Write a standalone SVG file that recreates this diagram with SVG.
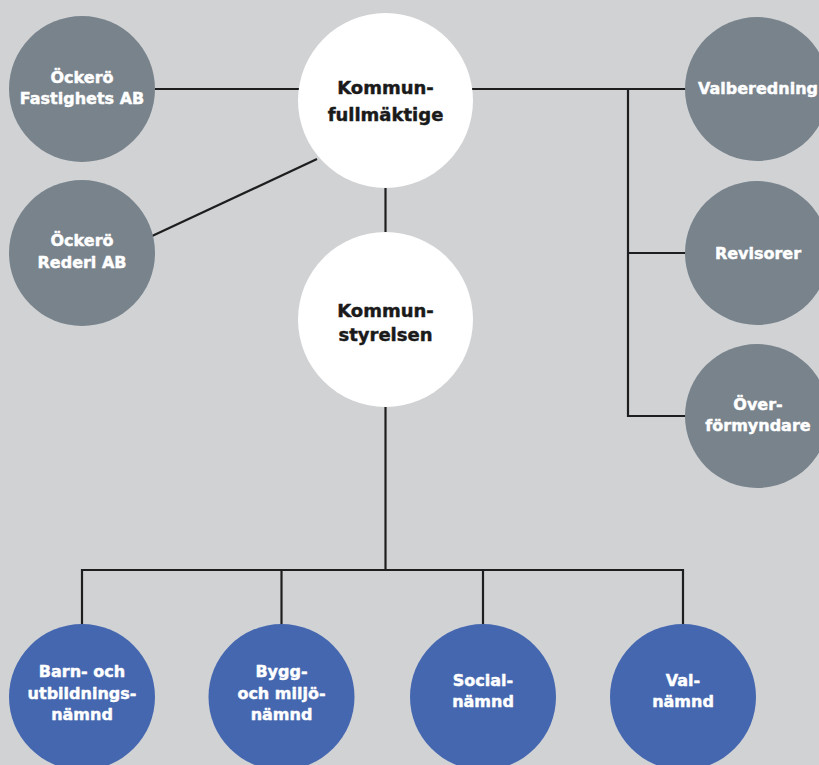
<svg xmlns="http://www.w3.org/2000/svg" width="819" height="765" viewBox="0 0 819 765">
<style>
.bg{fill:#d1d2d4}
.gray{fill:#78838c}
.white{fill:#ffffff}
.blue{fill:#4567b0}
.ln{stroke:#1e1e1e;stroke-width:2.2;fill:none}
.t{font-family:"DejaVu Sans","Liberation Sans",sans-serif;font-weight:bold;text-anchor:middle;stroke-width:0.45;stroke-linejoin:round}
.tw{fill:#ffffff;stroke:#ffffff;font-size:16px}
.tk{fill:#1a1a1a;stroke:#1a1a1a;font-size:18px}
</style>
<rect class="bg" x="0" y="0" width="819" height="765"/>
<g id="connectors">
<line class="ln" x1="155" y1="89" x2="299" y2="89"/>
<line class="ln" x1="151" y1="236.5" x2="317" y2="159"/>
<line class="ln" x1="385.5" y1="187" x2="385.5" y2="233"/>
<line class="ln" x1="472" y1="89" x2="687" y2="89"/>
<polyline class="ln" points="628,89 628,416 687,416"/>
<line class="ln" x1="628" y1="253" x2="687" y2="253"/>
<line class="ln" x1="385.5" y1="406" x2="385.5" y2="570"/>
<polyline class="ln" points="82,625 82,570 683,570 683,625"/>
<line class="ln" x1="281.5" y1="570" x2="281.5" y2="625"/>
<line class="ln" x1="483" y1="570" x2="483" y2="625"/>
</g>
<g id="fastighets">
<circle class="gray" cx="82" cy="89" r="73"/>
<text class="t tw" x="82" y="82.5">Öckerö</text>
<text class="t tw" x="82" y="104">Fastighets AB</text>
</g>
<g id="rederi">
<circle class="gray" cx="82" cy="253" r="73"/>
<text class="t tw" x="82" y="246">Öckerö</text>
<text class="t tw" x="82" y="268">Rederi AB</text>
</g>
<g id="kommunfullmaktige">
<circle class="white" cx="385.5" cy="100.5" r="87.5"/>
<text class="t tk" x="385.5" y="93.5">Kommun-</text>
<text class="t tk" x="385.5" y="121">fullmäktige</text>
</g>
<g id="kommunstyrelsen">
<circle class="white" cx="385.5" cy="319.5" r="87.5"/>
<text class="t tk" x="385.5" y="316.5">Kommun-</text>
<text class="t tk" x="385.5" y="341">styrelsen</text>
</g>
<g id="valberedning">
<circle class="gray" cx="757" cy="89" r="72"/>
<text class="t tw" x="758" y="94">Valberedning</text>
</g>
<g id="revisorer">
<circle class="gray" cx="757" cy="253" r="72"/>
<text class="t tw" x="758" y="258.5">Revisorer</text>
</g>
<g id="overformyndare">
<circle class="gray" cx="757" cy="416" r="72"/>
<text class="t tw" x="758" y="410">Över-</text>
<text class="t tw" x="758" y="431">förmyndare</text>
</g>
<g id="barn">
<circle class="blue" cx="82" cy="697" r="73"/>
<text class="t tw" x="82" y="677">Barn- och</text>
<text class="t tw" x="82" y="699">utbildnings-</text>
<text class="t tw" x="82" y="720">nämnd</text>
</g>
<g id="bygg">
<circle class="blue" cx="281.5" cy="697" r="73"/>
<text class="t tw" x="281.5" y="677">Bygg-</text>
<text class="t tw" x="281.5" y="699">och miljö-</text>
<text class="t tw" x="281.5" y="720">nämnd</text>
</g>
<g id="social">
<circle class="blue" cx="483" cy="697" r="73"/>
<text class="t tw" x="483" y="686">Social-</text>
<text class="t tw" x="483" y="707">nämnd</text>
</g>
<g id="val">
<circle class="blue" cx="683" cy="697" r="73"/>
<text class="t tw" x="683" y="686">Val-</text>
<text class="t tw" x="683" y="707">nämnd</text>
</g>
</svg>
